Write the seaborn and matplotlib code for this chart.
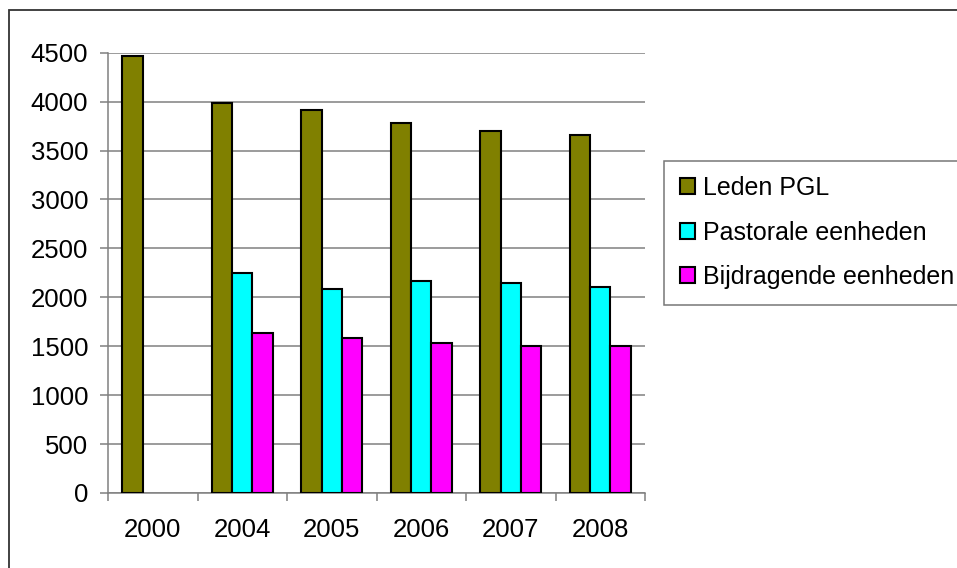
import numpy as np
import pandas as pd
import matplotlib.pyplot as plt
import seaborn as sns
from matplotlib.patches import Rectangle

# values
years = ['2000', '2004', '2005', '2006', '2007', '2008']
leden_pgl = [4470, 3990, 3910, 3780, 3700, 3660]
pastorale = [np.nan, 2250, 2090, 2170, 2150, 2110]
bijdragend = [np.nan, 1640, 1580, 1530, 1500, 1500]
series = ['Leden PGL', 'Pastorale eenheden', 'Bijdragende eenheden']
colors = ['#808000', '#00FFFF', '#FF00FF']

df = pd.DataFrame({'Jaar': years,
                   series[0]: leden_pgl,
                   series[1]: pastorale,
                   series[2]: bijdragend})
df = df.melt(id_vars='Jaar', var_name='Reeks', value_name='Aantal')

sns.set_style('white')
plt.rcParams['font.family'] = ['Liberation Sans', 'DejaVu Sans']
plt.rcParams['text.color'] = 'black'
plt.rcParams['xtick.labelcolor'] = 'black'
plt.rcParams['ytick.labelcolor'] = 'black'

fs = 18.5

fig = plt.figure(figsize=(9.57, 5.68), dpi=100)
ax = fig.add_axes([108 / 957, 1 - 493 / 568, (645 - 108) / 957, (493 - 52.7) / 568])

sns.barplot(data=df, x='Jaar', y='Aantal', hue='Reeks', hue_order=series,
            palette=colors, saturation=1, width=0.68, gap=0, errorbar=None,
            edgecolor='black', linewidth=1.5, ax=ax, zorder=3)

ax.set_ylim(0, 4500)
ax.set_xlim(-0.5, len(years) - 0.5)
ax.set_yticks(range(0, 4501, 500))
ax.yaxis.grid(True, color='#808080', linewidth=1.1, zorder=0)
ax.set_axisbelow(True)
ax.set_xlabel('')
ax.set_ylabel('')

for side in ['top', 'right']:
    ax.spines[side].set_visible(False)
for side in ['left', 'bottom']:
    ax.spines[side].set_color('#808080')
    ax.spines[side].set_linewidth(1.1)

ax.tick_params(axis='y', direction='out', length=5.8, width=1.1, color='#808080',
               pad=8.5, labelsize=fs, left=True)
ax.tick_params(axis='x', which='major', length=0, pad=18, labelsize=fs)
ax.set_xticks([i - 0.5 for i in range(len(years) + 1)], minor=True)
ax.tick_params(axis='x', which='minor', direction='out', length=5.8, width=1.1,
               color='#808080', bottom=True)

handles, labels = ax.get_legend_handles_labels()
ax.get_legend().remove()
leg = fig.legend(handles, labels, loc='upper left',
                 bbox_to_anchor=(664 / 957, 1 - 160.7 / 568),
                 fontsize=18, frameon=True, fancybox=False,
                 borderpad=0.62, labelspacing=0.82, handlelength=0.6,
                 handleheight=0.6, handletextpad=0.33, borderaxespad=0)
leg.get_frame().set_edgecolor('#555555')
leg.get_frame().set_linewidth(1.1)

# outer chart border, running off the right and bottom edges
fig.patches.append(Rectangle((9 / 957, -0.2), 1.2, 1.2 - 10 / 568,
                             transform=fig.transFigure, fill=False,
                             edgecolor='#333333', linewidth=1.3))

fig.savefig('out.png', dpi=100)
